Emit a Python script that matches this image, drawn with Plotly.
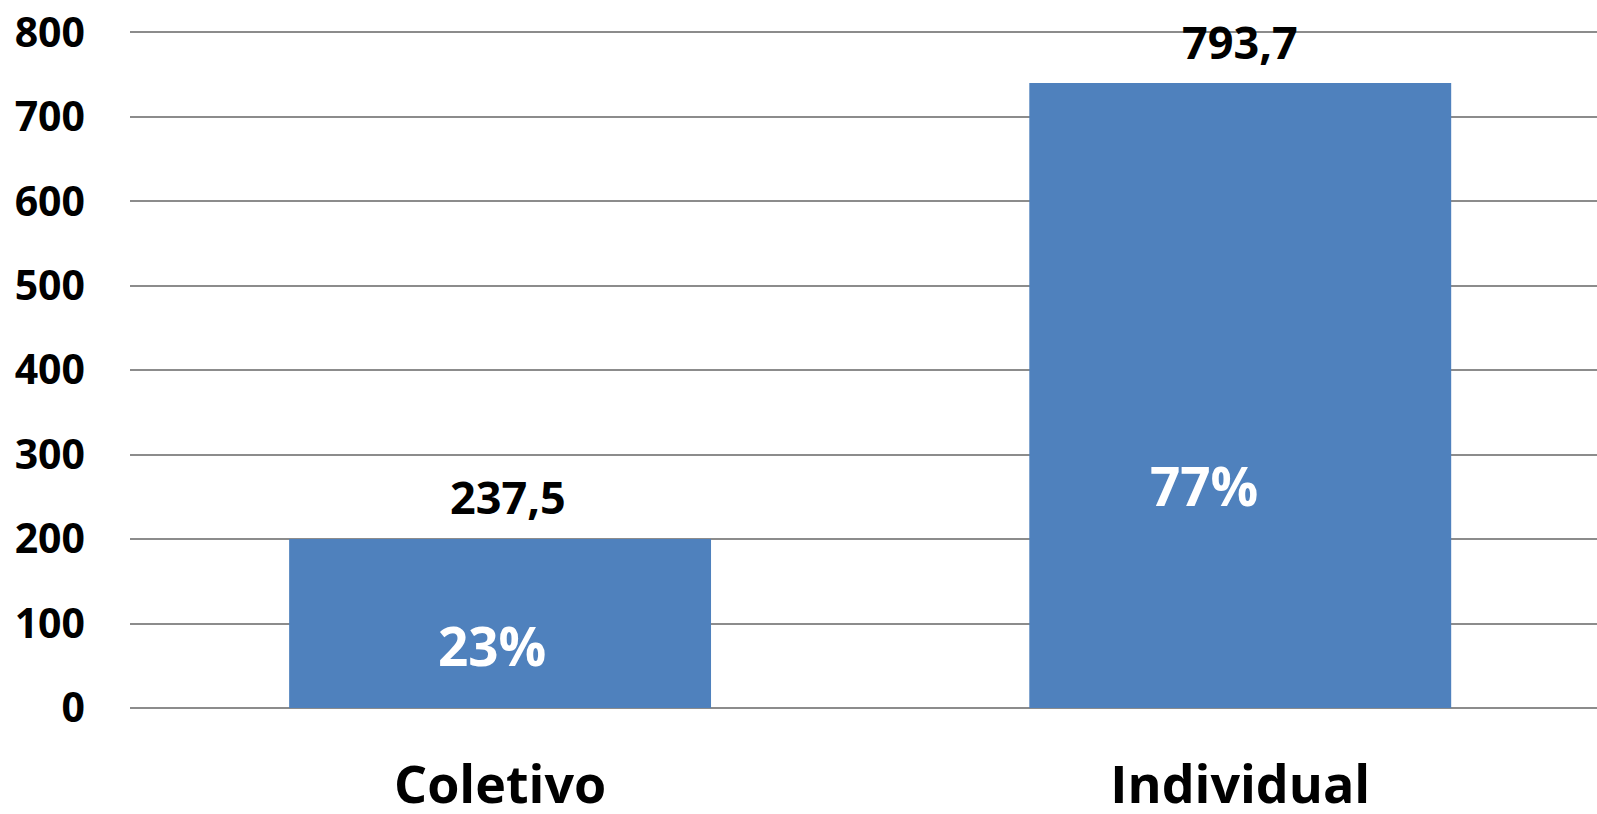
import plotly.graph_objects as go

# ---- data ----
categories = ["Coletivo", "Individual"]
bar_heights = [200, 740]
value_labels = ["237,5", "793,7"]
share_labels = ["23%", "77%"]
y_ticks = [0, 100, 200, 300, 400, 500, 600, 700, 800]

# ---- label placement (layout, not data): (x offset from category, y in axis units) ----
value_label_pos = [(0.011, 250), (0.0, 789)]
share_label_pos = [(-0.011, 74), (-0.049, 263)]

FONT = "Open Sans"
BAR_COLOR = "#4F81BD"
GRID = "#8C8C8C"

fig = go.Figure()
fig.add_trace(go.Bar(
    x=list(range(len(categories))),
    y=bar_heights,
    marker=dict(color=BAR_COLOR, line=dict(width=0)),
    width=0.57,
    hoverinfo="skip",
))

for i, ((dx, y), t) in enumerate(zip(value_label_pos, value_labels)):
    fig.add_annotation(x=i + dx, y=y, text=t, showarrow=False, xref="x", yref="y",
                       font=dict(family=FONT, size=45, color="black", weight="bold"))
for i, ((dx, y), t) in enumerate(zip(share_label_pos, share_labels)):
    fig.add_annotation(x=i + dx, y=y, text=t, showarrow=False, xref="x", yref="y",
                       font=dict(family=FONT, size=53, color="white", weight="bold"))

fig.update_layout(
    width=1597, height=814,
    margin=dict(l=130, r=0, t=31, b=106),
    paper_bgcolor="white", plot_bgcolor="white",
    showlegend=False,
    xaxis=dict(
        range=[-0.5, 1.482],
        tickmode="array",
        tickvals=list(range(len(categories))),
        ticktext=categories,
        showgrid=False, zeroline=False, showline=False,
        ticks="",
        automargin=False,
        ticklabelstandoff=42,
        tickfont=dict(family=FONT, size=52, color="black", weight="bold"),
    ),
    yaxis=dict(
        range=[0, 801.5],
        tickmode="array",
        tickvals=y_ticks,
        ticktext=[str(v) for v in y_ticks],
        showgrid=True, gridcolor=GRID, gridwidth=2,
        zeroline=True, zerolinecolor=GRID, zerolinewidth=2,
        showline=False, ticks="",
        automargin=False,
        ticklabelstandoff=44,
        tickfont=dict(family=FONT, size=41, color="black", weight="bold"),
    ),
)

fig.write_html(
    "out.html",
    config={"displayModeBar": False},
    post_script="document.body.style.margin='0';document.body.style.overflow='hidden';",
)
